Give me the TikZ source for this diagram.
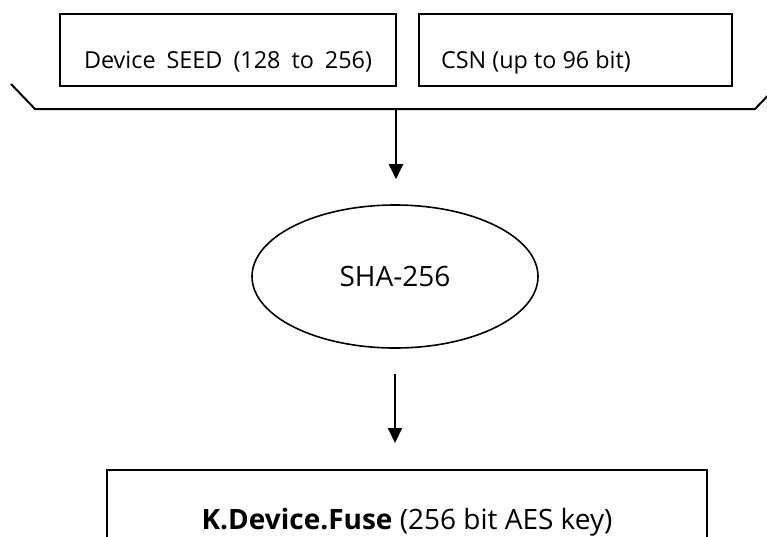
\documentclass[tikz,border=0pt]{standalone}
\usepackage{fontspec}
\setmainfont{Open Sans}
\usepackage{tikz}
\usetikzlibrary{arrows.meta,shapes.geometric,calc}

\tikzset{
  inbox/.style={draw, line width=2pt, anchor=north west,
    inner ysep=0pt, text height=54pt, text depth=18pt,
    font=\fontsize{23.4pt}{28pt}\selectfont},
  hashnode/.style={draw, ellipse, line width=1.6pt, inner sep=0pt,
    minimum width=286pt, minimum height=143pt,
    font=\fontsize{28pt}{34pt}\selectfont},
  keybox/.style={draw, line width=2pt, anchor=north, inner sep=0pt,
    minimum width=600pt, text height=59pt, text depth=40pt,
    font=\fontsize{28pt}{34pt}\selectfont},
  arr/.style={line width=2pt, -{Triangle[width=14pt,length=15pt]}}
}

\begin{document}
\begin{tikzpicture}[x=1pt,y=-1pt]
    \clip (0,0) rectangle (767,536);
    \def\inputs{
      \node[inbox, inner xsep=24pt] (seed) at (59,13)
        {\makebox[288pt][s]{Device SEED (128 to 256)}};
      \node[inbox, inner xsep=22pt] (csn) at (418,13)
        {\makebox[269pt][l]{CSN (up to 96 bit)}};
    }
    \def\bracket{
      \coordinate (b1) at (11,84);
      \coordinate (b2) at (35,109);
      \coordinate (b3) at (755,109);
      \coordinate (b4) at (779,84);
      \coordinate (join) at (396,109);
      % Draw the joining line
      \draw [line width=2pt] (b1) -- (b2) -- (b3) -- (b4);
    }
    \inputs
    \bracket
    \node[hashnode] (hash) at (395,276.5) {SHA-256};
    \node[keybox] (key) at (407,469) {\textbf{K.Device.Fuse} (256 bit AES key)};
    % Draw arrows
    \draw [arr, shorten >=25pt] (join) -- (join |- hash.north);
    \draw [arr, shorten <=25pt, shorten >=26pt] (hash.south) -- (hash.south |- key.north);
  \end{tikzpicture}
\end{document}
